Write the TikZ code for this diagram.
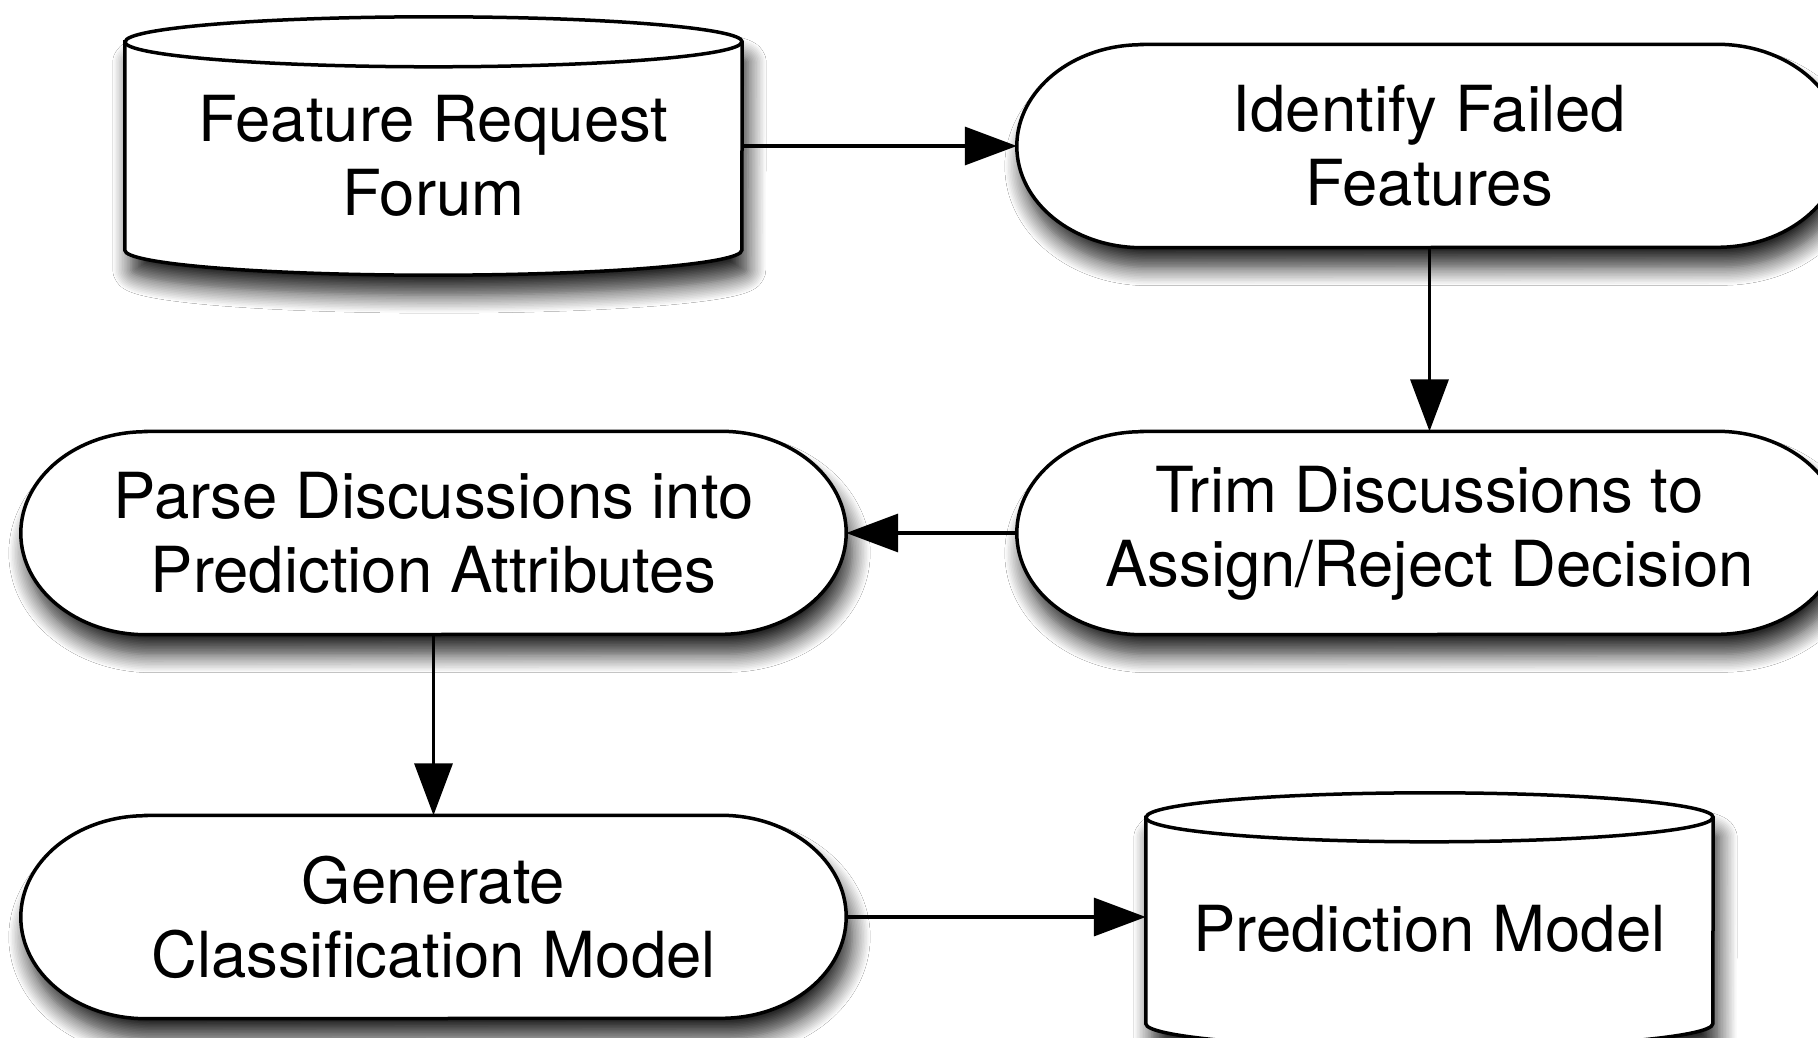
\documentclass[tikz,border=0pt]{standalone}
\usepackage{fontspec}
\setmainfont{TeX Gyre Heros}
\usetikzlibrary{arrows.meta,shadows.blur,calc}
\pgfdeclarelayer{background}
\pgfsetlayers{background,main}
\newcommand\stadiumpath[1]{%
  \path[outline] ($(#1.north west)+(125,0)$) -- ($(#1.north east)+(-125,0)$)
    arc[start angle=90,end angle=-90,x radius=125pt,y radius=101.5pt]
    -- ($(#1.south west)+(125,0)$)
    arc[start angle=270,end angle=90,x radius=125pt,y radius=101.5pt] -- cycle;}
\newcommand\cylpath[3]{% node, x radius, y radius
  \path[outline] ($(#1.north west)+(0,#3)$) -- ($(#1.south west)+(0,-#3)$)
    arc[start angle=180,end angle=360,x radius=#2pt,y radius=#3pt]
    -- ($(#1.north east)+(0,#3)$)
    arc[start angle=0,end angle=180,x radius=#2pt,y radius=#3pt] -- cycle;
  \draw[line width=3.5pt] ($(#1.north west)+(0,#3)$)
    arc[start angle=180,end angle=360,x radius=#2pt,y radius=#3pt];}
\begin{document}
\begin{tikzpicture}[x=1pt,y=-1pt,
  every node/.style={font=\fontsize{63.5}{74}\selectfont, align=center, inner sep=0pt},
  stadiumbox/.style={draw=none, minimum width=825pt, minimum height=203pt},
  outline/.style={draw=black, line width=3.5pt, fill=white,
    blur shadow={shadow xshift=6pt, shadow yshift=-20pt, shadow blur radius=18pt, shadow opacity=85, shadow blur steps=12}},
  conn/.style={draw=black, line width=3.5pt, -{Triangle[length=52pt,width=38pt,fill=black]}},
]
\useasboundingbox (0,0) rectangle (1818,1038);
\clip (0,0) rectangle (1818,1038);

% nodes
\node[draw=none, minimum width=617pt, minimum height=258pt] (cylA) at (433.5,146) {};
\node (cylAtxt) at ($(cylA.center)+(0,10)$) {Feature Request\\Forum};
\node[stadiumbox] (idf) at (1429.5,146) {Identify Failed\\Features};
\node[stadiumbox] (trim) at (1429.5,533) {Trim Discussions to\\Assign/Reject Decision};
\node[stadiumbox] (parse) at (433.5,533) {Parse Discussions into\\Prediction Attributes};
\node[stadiumbox] (gen) at (433.5,917) {Generate\\Classification Model};
\node[draw=none, minimum width=567pt, minimum height=255pt] (cylB) at (1429.5,920.5) {};
\node (cylBtxt) at ($(cylB.center)+(0,8.5)$) {Prediction Model};

\begin{pgfonlayer}{background}
  \fill[white] (0,0) rectangle (1818,1038);
  \cylpath{cylA}{308.5}{25}
  \stadiumpath{idf}
  \stadiumpath{trim}
  \stadiumpath{parse}
  \stadiumpath{gen}
  \cylpath{cylB}{283.5}{24.5}
\end{pgfonlayer}

% connectors
\draw[conn] (cylA.east) -- (idf.west);
\draw[conn] (idf.south) -- (trim.north);
\draw[conn] (trim.west) -- (parse.east);
\draw[conn] (parse.south) -- (gen.north);
\draw[conn] (gen.east) -- (gen.east -| cylB.west);
\end{tikzpicture}
\end{document}
